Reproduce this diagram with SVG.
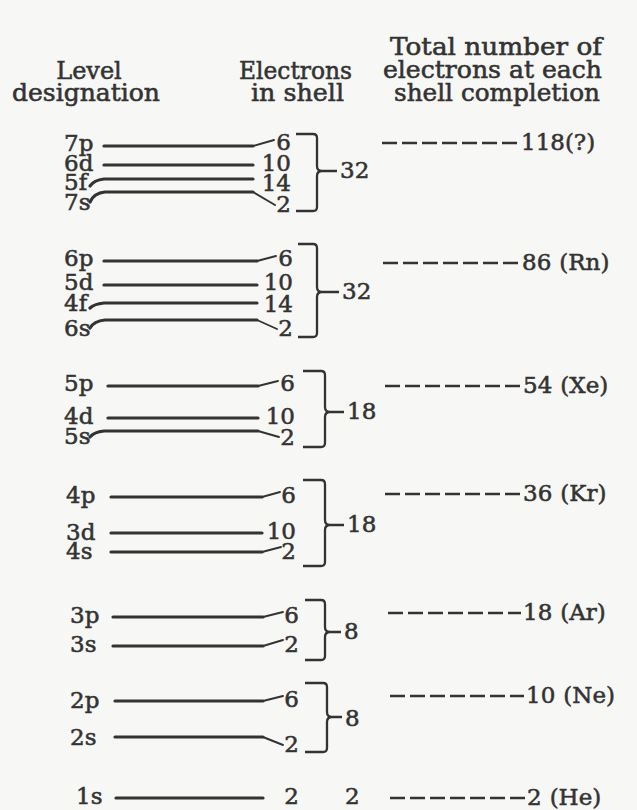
<svg xmlns="http://www.w3.org/2000/svg" width="637" height="810" viewBox="0 0 637 810">
<style>
.t{font-family:"DejaVu Serif","Liberation Serif",serif;font-size:23px;fill:#333;stroke:#333;stroke-width:0.55}
.h{font-size:24px}
.m{text-anchor:middle}
.e{text-anchor:end}
.lv{stroke:#333;stroke-width:3.2;fill:none;stroke-linecap:round}
.tk{stroke:#333;stroke-width:1.9;fill:none;stroke-linecap:round}
.br{stroke:#333;stroke-width:2.3;fill:none}
.ds{stroke:#333;stroke-width:2.6;stroke-dasharray:15 5;fill:none}
</style>
<rect width="637" height="810" fill="#f7f7f5"/>
<g id="header">
<text class="t h m" x="89" y="79">Level</text>
<text class="t h" x="12" y="101" textLength="148" lengthAdjust="spacingAndGlyphs">designation</text>
<text class="t h" x="239" y="79" textLength="113" lengthAdjust="spacingAndGlyphs">Electrons</text>
<text class="t h" x="251" y="101" textLength="93" lengthAdjust="spacingAndGlyphs">in shell</text>
<text class="t h" x="390" y="55" textLength="212" lengthAdjust="spacingAndGlyphs">Total number of</text>
<text class="t h" x="383" y="78" textLength="219" lengthAdjust="spacingAndGlyphs">electrons at each</text>
<text class="t h" x="394" y="101" textLength="206" lengthAdjust="spacingAndGlyphs">shell completion</text>
</g>
<g id="shell7">
<text class="t" x="64" y="151">7p</text>
<text class="t" x="64" y="171">6d</text>
<text class="t" x="64" y="190">5f</text>
<text class="t" x="64" y="210">7s</text>
<text class="t e" x="291" y="150">6</text>
<text class="t e" x="291" y="171">10</text>
<text class="t e" x="291" y="191">14</text>
<text class="t e" x="291" y="212">2</text>
<text class="t" x="340" y="178">32</text>
</g>
<g id="shell6">
<text class="t" x="64" y="266">6p</text>
<text class="t" x="64" y="290">5d</text>
<text class="t" x="64" y="311">4f</text>
<text class="t" x="64" y="336">6s</text>
<text class="t e" x="293" y="266">6</text>
<text class="t e" x="293" y="290">10</text>
<text class="t e" x="293" y="312">14</text>
<text class="t e" x="293" y="336">2</text>
<text class="t" x="342" y="299">32</text>
</g>
<g id="shell5">
<text class="t" x="64" y="391">5p</text>
<text class="t" x="64" y="424">4d</text>
<text class="t" x="64" y="444">5s</text>
<text class="t e" x="295" y="391">6</text>
<text class="t e" x="295" y="424">10</text>
<text class="t e" x="295" y="445">2</text>
<text class="t" x="347" y="419">18</text>
</g>
<g id="shell4">
<text class="t" x="66" y="503">4p</text>
<text class="t" x="66" y="540">3d</text>
<text class="t" x="66" y="559">4s</text>
<text class="t e" x="296" y="503">6</text>
<text class="t e" x="296" y="539">10</text>
<text class="t e" x="296" y="559">2</text>
<text class="t" x="347" y="532">18</text>
</g>
<g id="shell3">
<text class="t" x="70" y="623">3p</text>
<text class="t" x="70" y="652">3s</text>
<text class="t e" x="299" y="623">6</text>
<text class="t e" x="299" y="652">2</text>
<text class="t" x="344" y="639">8</text>
</g>
<g id="shell2">
<text class="t" x="70" y="708">2p</text>
<text class="t" x="70" y="745">2s</text>
<text class="t e" x="299" y="707">6</text>
<text class="t e" x="299" y="752">2</text>
<text class="t" x="345" y="726">8</text>
</g>
<g id="shell1">
<text class="t" x="76" y="804">1s</text>
<text class="t e" x="299" y="804">2</text>
<text class="t" x="345" y="804">2</text>
</g>
<g id="totals">
<text class="t" x="521" y="150">118(?)</text>
<text class="t" x="522" y="270">86<tspan dx="8">(Rn)</tspan></text>
<text class="t" x="523" y="393">54<tspan dx="8">(Xe)</tspan></text>
<text class="t" x="523" y="501">36<tspan dx="8">(Kr)</tspan></text>
<text class="t" x="523" y="620">18<tspan dx="8">(Ar)</tspan></text>
<text class="t" x="526" y="703">10<tspan dx="8">(Ne)</tspan></text>
<text class="t" x="527" y="805">2<tspan dx="8">(He)</tspan></text>
</g>
<g id="connectors">
<path class="lv" d="M104,146H253M104,165H253M90,186Q94,180 104,179H253M90,202Q94,193 105,192H253"/>
<path class="tk" d="M253,146L274,140M253,192L275,205"/>
<path class="br" d="M296,134H313Q317,134 317,138V166Q317,171 322,171Q317,171 317,176V207Q317,211 313,211H296M322,171H337"/>
<path class="lv" d="M104,261H257M104,285H257M90,308Q94,304 104,303H257M90,328Q94,321 105,320H257"/>
<path class="tk" d="M257,261L276,256M257,320L277,329"/>
<path class="br" d="M298,244H313Q317,244 317,248V287Q317,292 322,292Q317,292 317,297V333Q317,337 313,337H298M322,292H339"/>
<path class="lv" d="M108,386H258M108,418H258M90,437Q94,432 104,431H258"/>
<path class="tk" d="M258,386L278,381M258,431L279,437"/>
<path class="br" d="M303,371H321Q325,371 325,375V407Q325,412 330,412Q325,412 325,417V443Q325,447 321,447H303M330,412H344"/>
<path class="lv" d="M111,497H262M111,533H262M111,552H262"/>
<path class="tk" d="M262,497L280,492M262,552L281,547"/>
<path class="br" d="M303,480H321Q325,480 325,484V520Q325,525 330,525Q325,525 325,530V562Q325,566 321,566H303M330,525H344"/>
<path class="lv" d="M113,617H263M113,646H263"/>
<path class="tk" d="M263,617L283,612M263,646L283,640"/>
<path class="br" d="M305,600H321Q325,600 325,604V627Q325,632 330,632Q325,632 325,637V656Q325,660 321,660H305M330,632H341"/>
<path class="lv" d="M115,701H263M115,737H263"/>
<path class="tk" d="M263,701L283,696M263,737L283,745"/>
<path class="br" d="M305,683H323Q327,683 327,687V712Q327,717 332,717Q327,717 327,722V748Q327,752 323,752H305M332,717H342"/>
<path class="lv" d="M116,798H263"/>
<path class="ds" d="M382,143H518M383,263H519M385,386H520M385,494H520M388,613H521M390,696H524M390,798H525"/>
</g>
</svg>
